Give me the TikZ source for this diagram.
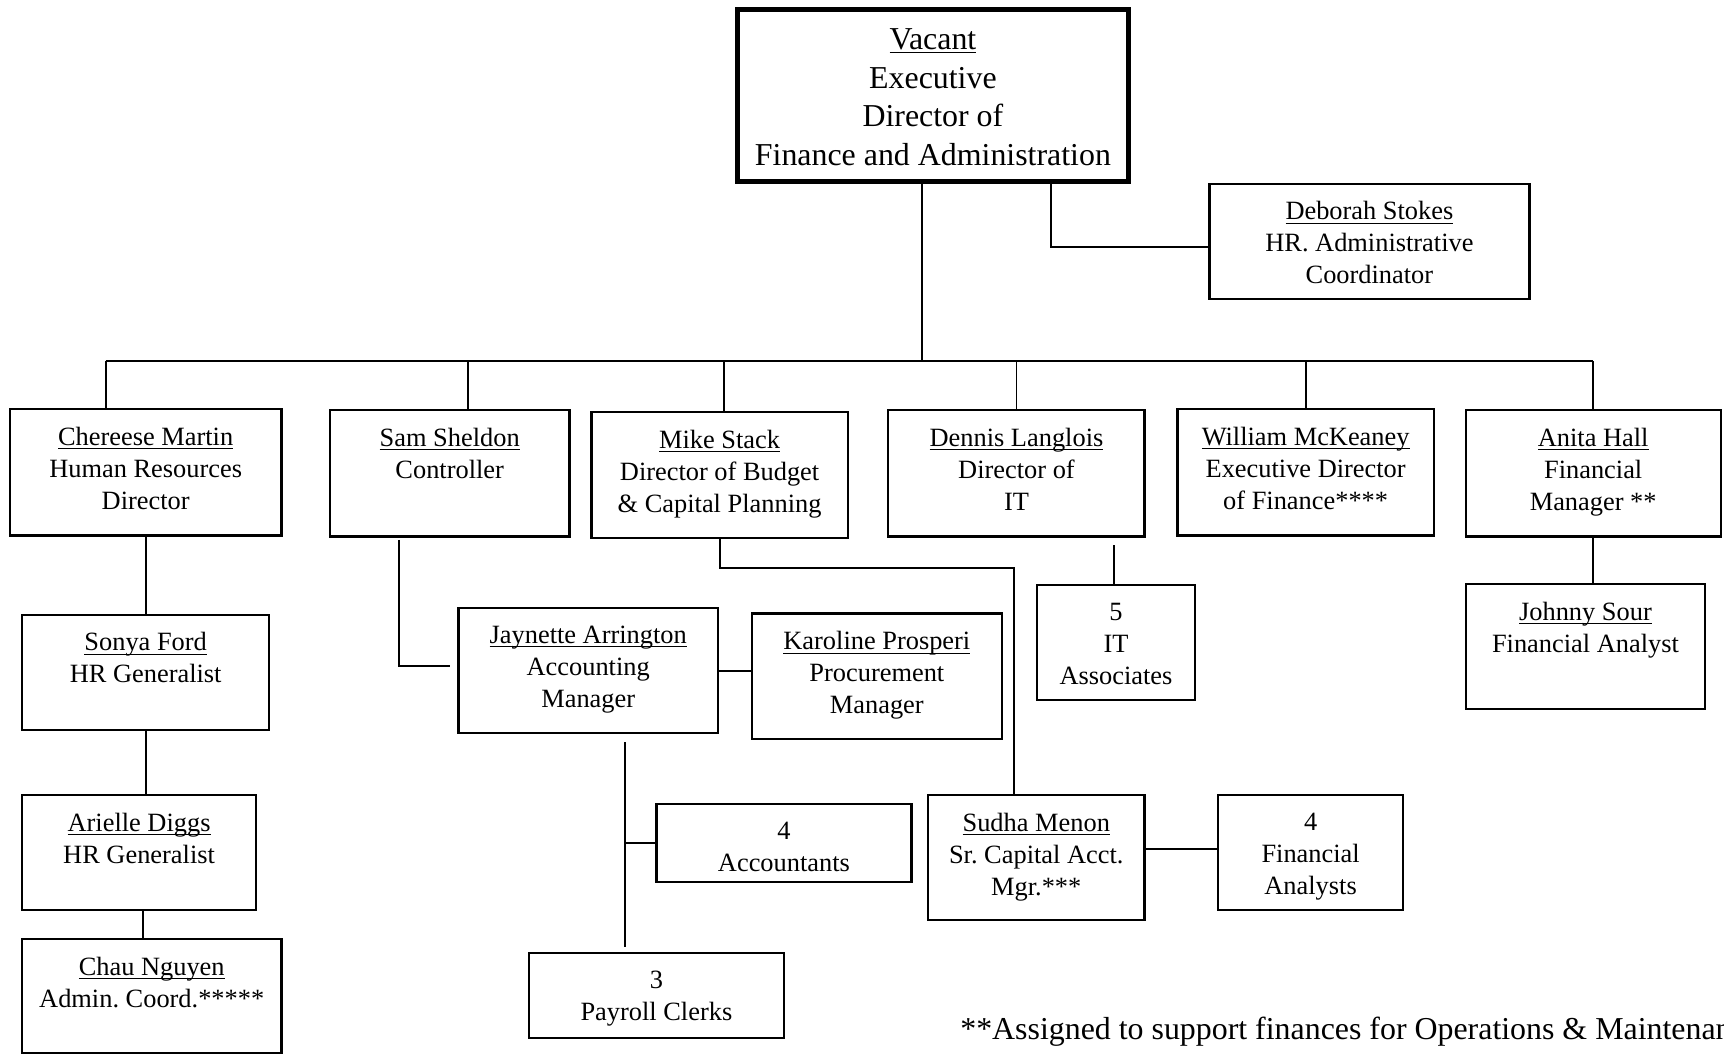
\documentclass[tikz,border=0pt]{standalone}
\usepackage{fontspec}
\setmainfont{Liberation Serif}
\newcommand{\uname}[1]{\underline{\raisebox{0pt}[\height][0pt]{#1}}}
\frenchspacing
\usetikzlibrary{fit,calc}

\begin{document}
\begin{tikzpicture}[x=0.5pt,y=-0.5pt,
	box/.style={draw,line width=1pt,inner sep=0pt},
	txt/.style={anchor=north,align=center,inner sep=0pt,font=\fontsize{12}{14.5}\selectfont},
	link/.style={line width=0.9pt}]
	\useasboundingbox (0,0) rectangle (1568,960);
	\clip (0,0) rectangle (1568,960);
	%TOP
	\node[box,line width=2.3pt,fit={(671,9) (1026,165)}] (exec) {};
	\node[txt,font=\fontsize{14.5}{17.5}\selectfont] (execT) at ($(exec.north)+(0,19)$) {\uname{Vacant}\\Executive\\Director of\\Finance and Administration};
	\node[box,fit={(1100,167) (1391,272)}] (stokes) {};
	\node[txt] (stokesT) at ($(stokes.north)+(0,17)$) {\uname{Deborah Stokes}\\HR. Administrative\\Coordinator};
	%SECOND ROW
	\node[box,fit={(9,372) (256,487)}] (martin) {};
	\node[txt] (martinT) at ($(martin.north)+(0,17)$) {\uname{Chereese Martin}\\Human Resources\\Director};
	\node[box,fit={(300,373) (518,488)}] (sheldon) {};
	\node[txt] (sheldonT) at ($(sheldon.north)+(0,17)$) {\uname{Sam Sheldon}\\Controller};
	\node[box,fit={(538,375) (771,489)}] (stack) {};
	\node[txt] (stackT) at ($(stack.north)+(0,17)$) {\uname{Mike Stack}\\Director of Budget\\\& Capital Planning};
	\node[box,fit={(808,373) (1041,488)}] (langlois) {};
	\node[txt] (langloisT) at ($(langlois.north)+(0,17)$) {\uname{Dennis Langlois}\\Director of\\IT};
	\node[box,fit={(1071,372) (1304,487)}] (mckeaney) {};
	\node[txt] (mckeaneyT) at ($(mckeaney.north)+(0,17)$) {\uname{William McKeaney}\\Executive Director\\of Finance****};
	\node[box,fit={(1333,373) (1565,488)}] (hall) {};
	\node[txt] (hallT) at ($(hall.north)+(0,17)$) {\uname{Anita Hall}\\Financial\\Manager **};
	%LOWER BOXES
	\node[box,fit={(20,559) (245,664)}] (ford) {};
	\node[txt] (fordT) at ($(ford.north)+(0,17)$) {\uname{Sonya Ford}\\HR Generalist};
	\node[box,fit={(20,723) (233,828)}] (diggs) {};
	\node[txt] (diggsT) at ($(diggs.north)+(0,17)$) {\uname{Arielle Diggs}\\HR Generalist};
	\node[box,fit={(20,854) (256,958)}] (nguyen) {};
	\node[txt] (nguyenT) at ($(nguyen.north)+(0,17)$) {\uname{Chau Nguyen}\\Admin. Coord.*****};
	\node[box,fit={(417,553) (653,667)}] (arrington) {};
	\node[txt] (arringtonT) at ($(arrington.north)+(0,17)$) {\uname{Jaynette Arrington}\\Accounting\\Manager};
	\node[box,fit={(684,558) (911,672)}] (prosperi) {};
	\node[txt] (prosperiT) at ($(prosperi.north)+(0,17)$) {\uname{Karoline Prosperi}\\Procurement\\Manager};
	\node[box,fit={(943,532) (1087,637)}] (itAssoc) {};
	\node[txt] (itAssocT) at ($(itAssoc.north)+(0,17)$) {5\\IT\\Associates};
	\node[box,fit={(1333,531) (1551,645)}] (sour) {};
	\node[txt] (sourT) at ($(sour.north)+(0,17)$) {\uname{Johnny Sour}\\Financial Analyst};
	\node[box,fit={(597,731) (829,802)}] (accts) {};
	\node[txt] (acctsT) at ($(accts.north)+(0,17)$) {4\\Accountants};
	\node[box,fit={(844,723) (1041,837)}] (menon) {};
	\node[txt] (menonT) at ($(menon.north)+(0,17)$) {\uname{Sudha Menon}\\Sr. Capital Acct.\\Mgr.***};
	\node[box,fit={(1108,723) (1276,828)}] (finAn) {};
	\node[txt] (finAnT) at ($(finAn.north)+(0,17)$) {4\\Financial\\Analysts};
	\node[box,fit={(481,867) (713,944)}] (payroll) {};
	\node[txt] (payrollT) at ($(payroll.north)+(0,17)$) {3\\Payroll Clerks};
	%NOTE
	\node[anchor=base west,inner sep=0pt,font=\fontsize{14.5}{17.5}\selectfont] (note) at (873,945) {**Assigned to support finances for Operations \& Maintenance};
	%LINES
	\coordinate (busL) at (96,328);
	\coordinate (busR) at (1449,328);
	\draw[link] (busL) -- (busR);
	\coordinate (execDrop) at ($(exec.south)+(-10,0)$);
	\draw[link] (execDrop) -- (execDrop |- busL);
	\coordinate (stokesDrop) at ($(exec.south)+(107,0)$);
	\coordinate (stokesIn) at ($(stokes.west)+(0,5)$);
	\draw[link] (stokesDrop) -- (stokesDrop |- stokesIn) -- (stokesIn);
	\draw[link] (busL) -- (busL |- martin.north);
	\coordinate (sheldonUp) at ($(sheldon.north)+(17,0)$);
	\draw[link] (sheldonUp) -- (sheldonUp |- busL);
	\coordinate (stackUp) at ($(stack.north)+(4,0)$);
	\draw[link] (stackUp) -- (stackUp |- busL);
	\foreach \n in {langlois,mckeaney,hall}
		\draw[link] (\n.north) -- (\n.north |- busL);
	\draw[link] (martin.south) -- (ford.north);
	\draw[link] (ford.south) -- (ford.south |- diggs.north);
	\coordinate (diggsDown) at ($(diggs.south)+(4,0)$);
	\draw[link] (diggsDown) -- (diggsDown |- nguyen.north);
	\coordinate (shA) at ($(sheldon.south)+(-46,2)$);
	\coordinate (shB) at ($(arrington.west)+(-7,-4)$);
	\draw[link] (shA) -- (shA |- shB) -- (shB);
	\coordinate (menIn) at ($(menon.north)+(-20,0)$);
	\coordinate (stBend) at ($(stack.south)+(0,27)$);
	\draw[link] (stack.south) -- (stBend) -- (stBend -| menIn) -- (menIn);
	\draw[link] (arrington.east) -- (arrington.east -| prosperi.west);
	\coordinate (arA) at ($(arrington.south)+(33,7)$);
	\coordinate (arB) at (arA |- payroll.north);
	\draw[link] (arA) -- ($(arB)+(0,-5)$);
	\draw[link] (arA |- accts.west) -- (accts.west);
	\coordinate (ltA) at ($(langlois.south)+(89,7)$);
	\draw[link] (ltA) -- (ltA |- itAssoc.north);
	\draw[link] (hall.south) -- (hall.south |- sour.north);
	\coordinate (mnA) at ($(menon.east)+(0,-8)$);
	\draw[link] (mnA) -- (mnA -| finAn.west);
\end{tikzpicture}
\end{document}
